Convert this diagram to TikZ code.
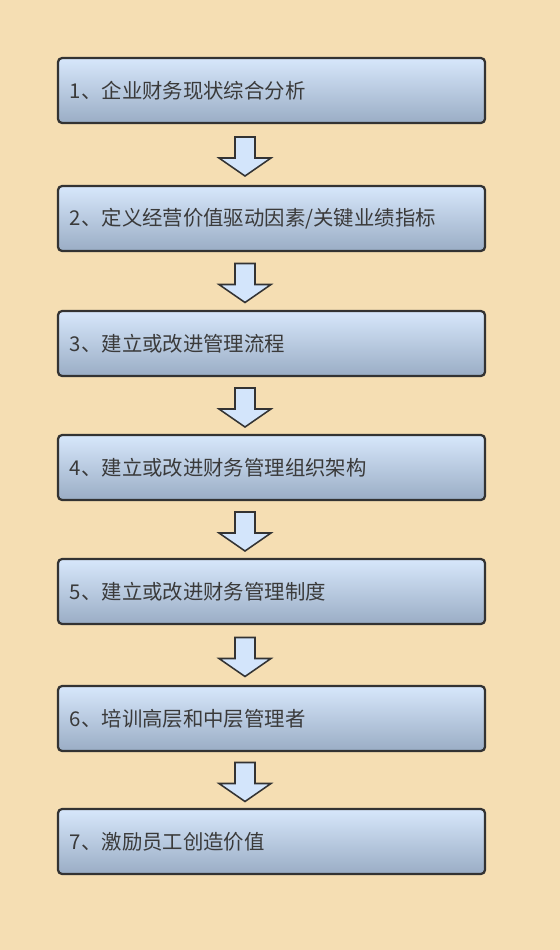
\documentclass[tikz,border=0pt]{standalone}
\usepackage{fontspec}
\usepackage{xcolor}
\usepackage{tikz}
\usetikzlibrary{calc}
\newfontfamily\cjk{Noto Sans CJK SC}
\definecolor{pagebg}{HTML}{F5DEB3}
\definecolor{boxtop}{HTML}{D7E7FB}
\definecolor{boxbot}{HTML}{9AADC5}
\definecolor{boxline}{HTML}{333333}
\definecolor{arrowfill}{HTML}{D3E5FB}
\definecolor{txt}{HTML}{3A3A3A}

\begin{document}
\begin{tikzpicture}[x=0.025cm, y=-0.025cm,
  stagebox/.style={draw=boxline, line width=1.6pt, rounded corners=3pt,
    top color=boxtop, bottom color=boxbot,
    minimum width=10.675cm, minimum height=1.625cm,
    text width=10.075cm, align=left, inner xsep=0.3cm,
    text=txt, font=\cjk\fontsize{14.5}{16}\selectfont},
  downarrow/.style={draw=boxline, line width=1.1pt, fill=arrowfill, line join=miter}]
% background, fixes the page size
\fill[pagebg] (0,0) rectangle (560,950);
% the seven stages
\node[stagebox] (s1) at (271.5,90.5) {1、企业财务现状综合分析};
\node[stagebox] (s2) at (271.5,218.5) {2、定义经营价值驱动因素/关键业绩指标};
\node[stagebox] (s3) at (271.5,343.5) {3、建立或改进管理流程};
\node[stagebox] (s4) at (271.5,467.5) {4、建立或改进财务管理组织架构};
\node[stagebox] (s5) at (271.5,591.5) {5、建立或改进财务管理制度};
\node[stagebox] (s6) at (271.5,718.5) {6、培训高层和中层管理者};
\node[stagebox] (s7) at (271.5,841.5) {7、激励员工创造价值};
% block arrows between stages, a bit left of the box centre
\foreach \a/\b in {s1/s2,s2/s3,s3/s4,s4/s5,s5/s6,s6/s7}
  \draw[downarrow, shift={($(\a.south)!0.5!(\b.north)+(-26.5,0)$)}]
    (-10,-17.5) -- (10,-17.5) -- (10,3.5) -- (26,3.5) -- (0,21.5)
    -- (-26,3.5) -- (-10,3.5) -- cycle;
\end{tikzpicture}
\end{document}
